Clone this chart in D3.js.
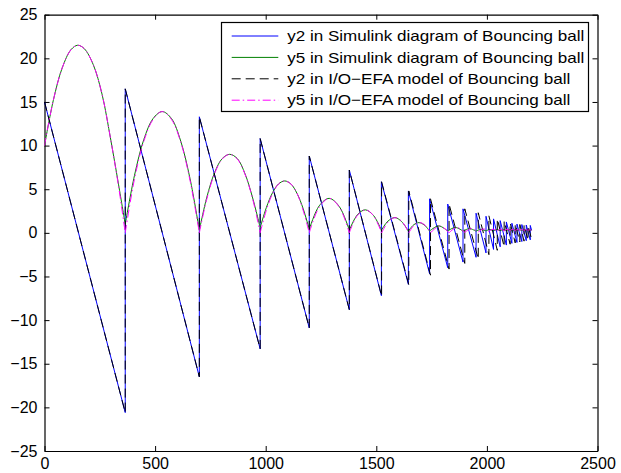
<!DOCTYPE html>
<html>
<head>
<meta charset="utf-8">
<script src="https://cdn.jsdelivr.net/npm/d3@7"></script>
<style>
  body { margin: 0; background: #fff; }
  text { font-family: "Liberation Sans", Arial, Helvetica, sans-serif; fill: #000; }
</style>
</head>
<body>
<svg id="chart" width="621" height="473"></svg>
<script>
// Axis ticks
const xTicks = [0, 500, 1000, 1500, 2000, 2500];
const yTicks = [-25, -20, -15, -10, -5, 0, 5, 10, 15, 20, 25];

// Legend entries
const legendLabels = [
  "y2 in Simulink diagram of Bouncing ball",
  "y5 in Simulink diagram of Bouncing ball",
  "y2 in I/O\u2212EFA model of Bouncing ball",
  "y5 in I/O\u2212EFA model of Bouncing ball"
];

// y2 (velocity), Simulink: vertices [step, value]
const simVelocity = [
  [0, 15], [365, -20.6], [365, 16.5], [700, -16.5], [700, 13.3], [975, -13.3], [975, 10.8],
  [1197, -10.9], [1197, 8.8], [1378, -8.8], [1378, 7.2], [1523, -7.2], [1523, 5.85],
  [1645, -5.9], [1645, 4.8], [1741, -4.7], [1741, 3.9], [1823, -4.0], [1823, 3.3],
  [1892, -3.35], [1892, 2.75], [1951, -2.8], [1951, 2.25], [1996, -2.3], [1996, 1.9],
  [2030, -1.9], [2030, 1.6], [2060, -1.6], [2060, 1.4], [2088, -1.4], [2088, 1.25],
  [2113, -1.2], [2113, 1.1], [2136, -1.1], [2136, 1.0], [2158, -1.0], [2158, 0.95],
  [2178, -0.9], [2178, 0.9], [2196, -0.8], [2196, 0.85], [2202, 0.3]
];

// y2 (velocity), I/O-EFA model
const efaVelocity = [
  [0, 15], [365, -20.6], [365, 16.5], [700, -16.5], [700, 13.3], [975, -13.3], [975, 10.8],
  [1197, -10.9], [1197, 8.8], [1378, -8.8], [1378, 7.2], [1524, -7.25], [1524, 5.85],
  [1647, -5.95], [1647, 4.8], [1745, -4.85], [1745, 3.9], [1829, -4.15], [1829, 3.3],
  [1900, -3.5], [1900, 2.75], [1961, -3.0], [1961, 2.3], [2009, -2.5], [2009, 1.95],
  [2047, -2.0], [2047, 1.6], [2078, -1.6], [2078, 1.35], [2105, -1.3], [2105, 1.15],
  [2128, -1.15], [2128, 1.0], [2149, -1.05], [2149, 0.95], [2168, -0.95], [2168, 0.9],
  [2186, -0.85], [2186, 0.8], [2202, -0.7]
];

// y5 (height), Simulink: one array of [step, value] per flight
const simPosition = [
  [[0, 10], [40, 15.2], [80, 18.9], [120, 21.0], [150, 21.5], [180, 21.1], [220, 19.3], [260, 15.9], [300, 10.6], [335, 5.5], [365, 1.0]],
  [[365, 1.0], [407, 6.6], [449, 10.7], [491, 13.1], [532, 13.9], [574, 13.1], [616, 10.5], [658, 6.2], [700, 0.3]],
  [[700, 0.3], [734, 4.1], [769, 6.9], [803, 8.5], [837, 9.0], [872, 8.5], [906, 6.8], [941, 4.0], [975, 0.6]],
  [[975, 0.6], [1003, 2.9], [1031, 4.6], [1058, 5.6], [1086, 5.95], [1114, 5.6], [1142, 4.5], [1169, 2.8], [1197, 0.4]],
  [[1197, 0.4], [1242, 3.1], [1287, 3.95], [1333, 3.0], [1378, 0.3]],
  [[1378, 0.3], [1414, 2.05], [1450, 2.64], [1487, 2.0], [1523, 0.3]],
  [[1523, 0.3], [1553, 1.35], [1584, 1.75], [1614, 1.3], [1645, 0.2]],
  [[1645, 0.2], [1669, 0.92], [1693, 1.17], [1717, 0.9], [1741, 0.2]],
  [[1741, 0.2], [1782, 0.8], [1823, 0.2]],
  [[1823, 0.2], [1857, 0.62], [1892, 0.2]],
  [[1892, 0.2], [1921, 0.48], [1951, 0.2]],
  [[1951, 0.2], [1973, 0.4], [1996, 0.22]],
  [[1996, 0.22], [2013, 0.38], [2030, 0.24]],
  [[2030, 0.24], [2045, 0.36], [2060, 0.25]],
  [[2060, 0.25], [2074, 0.35], [2088, 0.26]],
  [[2088, 0.26], [2100, 0.34], [2113, 0.27]],
  [[2113, 0.27], [2124, 0.34], [2136, 0.28]],
  [[2136, 0.28], [2147, 0.34], [2158, 0.28]],
  [[2158, 0.28], [2168, 0.33], [2178, 0.29]],
  [[2178, 0.29], [2187, 0.33], [2196, 0.3]],
  [[2196, 0.3], [2202, 0.32]]
];

// y5 (height), I/O-EFA model
const efaPosition = [
  [[0, 10], [40, 15.2], [80, 18.9], [120, 21.0], [150, 21.5], [180, 21.1], [220, 19.3], [260, 15.9], [300, 10.6], [335, 5.3], [365, 0]],
  [[365, 0], [407, 6.2], [449, 10.5], [491, 13.0], [532, 13.9], [574, 13.0], [616, 10.4], [658, 6.0], [700, 0]],
  [[700, 0], [734, 3.9], [769, 6.8], [803, 8.45], [837, 9.0], [872, 8.45], [906, 6.75], [941, 3.9], [975, 0]],
  [[975, 0], [1003, 2.6], [1031, 4.5], [1058, 5.6], [1086, 5.95], [1114, 5.6], [1142, 4.5], [1169, 2.6], [1197, 0]],
  [[1197, 0], [1242, 2.95], [1287, 3.95], [1333, 2.95], [1378, 0]],
  [[1378, 0], [1414, 1.98], [1451, 2.64], [1487, 1.98], [1524, 0]],
  [[1524, 0], [1555, 1.3], [1585, 1.74], [1616, 1.3], [1647, 0]],
  [[1647, 0], [1671, 0.88], [1696, 1.18], [1720, 0.88], [1745, 0]],
  [[1745, 0], [1787, 0.8], [1829, 0]],
  [[1829, 0], [1864, 0.62], [1900, 0.05]],
  [[1900, 0.05], [1930, 0.5], [1961, 0.1]],
  [[1961, 0.1], [1985, 0.45], [2009, 0.15]],
  [[2009, 0.15], [2028, 0.42], [2047, 0.2]],
  [[2047, 0.2], [2062, 0.42], [2078, 0.22]],
  [[2078, 0.22], [2091, 0.4], [2105, 0.25]],
  [[2105, 0.25], [2116, 0.4], [2128, 0.26]],
  [[2128, 0.26], [2138, 0.38], [2149, 0.27]],
  [[2149, 0.27], [2158, 0.37], [2168, 0.28]],
  [[2168, 0.28], [2177, 0.36], [2186, 0.29]],
  [[2186, 0.29], [2194, 0.35], [2202, 0.3]]
];

const svg = d3.select("#chart");
const plotLeft = 44.5, plotRight = 597.5, plotTop = 14.7, plotBottom = 451;

const x = d3.scaleLinear().domain([0, 2500]).range([plotLeft, plotRight]);
const y = d3.scaleLinear().domain([-25, 25]).range([plotBottom, plotTop]);
const fmt = d3.format("d");

// Axes with inward ticks on all four sides
const gx = svg.append("g").attr("transform", `translate(0,${plotBottom})`)
  .call(d3.axisBottom(x).tickValues(xTicks).tickFormat(fmt).tickSizeInner(-5).tickSizeOuter(0).tickPadding(7));
const gxTop = svg.append("g").attr("transform", `translate(0,${plotTop})`)
  .call(d3.axisTop(x).tickValues(xTicks).tickFormat("").tickSizeInner(-5).tickSizeOuter(0));
const gy = svg.append("g").attr("transform", `translate(${plotLeft},0)`)
  .call(d3.axisLeft(y).tickValues(yTicks).tickFormat(fmt).tickSizeInner(-5).tickSizeOuter(0).tickPadding(7));
const gyRight = svg.append("g").attr("transform", `translate(${plotRight},0)`)
  .call(d3.axisRight(y).tickValues(yTicks).tickFormat("").tickSizeInner(-5).tickSizeOuter(0));

[gx, gxTop, gy, gyRight].forEach(g => {
  g.selectAll("path.domain").attr("stroke", "#000").attr("stroke-width", 1.2);
  g.selectAll(".tick line").attr("stroke", "#000").attr("stroke-width", 1);
  g.selectAll("text").attr("font-size", 16).attr("font-family", "Liberation Sans, Arial, sans-serif").attr("fill", "#000");
});

// Series
const polyline = d3.line().x(d => x(d[0])).y(d => y(d[1]));
const arcLine = d3.line().x(d => x(d[0])).y(d => y(d[1])).curve(d3.curveCatmullRom.alpha(0.5));
const arcsPath = arcs => arcs.map(a => arcLine(a)).join("");

const plot = svg.append("g").attr("fill", "none").attr("stroke-width", 1);

plot.append("path").attr("d", polyline(simVelocity)).attr("stroke", "#0000ff");
plot.append("path").attr("d", arcsPath(simPosition)).attr("stroke", "#008000");
plot.append("path").attr("d", polyline(efaVelocity)).attr("stroke", "#000")
  .attr("stroke-dasharray", "9,5");
plot.append("path").attr("d", arcsPath(efaPosition)).attr("stroke", "#ff00ff")
  .attr("stroke-dasharray", "8,3,1.5,3");

// Legend
const legendStyles = [
  { color: "#0000ff", dash: null },
  { color: "#008000", dash: null },
  { color: "#000", dash: "9,5" },
  { color: "#ff00ff", dash: "8,3,1.5,3" }
];
const legendWidths = [297, 297, 283, 283];
const legend = svg.append("g");
legend.append("rect")
  .attr("x", 221.5).attr("y", 22.5).attr("width", 367).attr("height", 89)
  .attr("fill", "#fff").attr("stroke", "#000").attr("stroke-width", 1.2);

legendLabels.forEach((label, i) => {
  const ry = 36 + i * 21.4;
  legend.append("line")
    .attr("x1", 231.7).attr("x2", 278.3).attr("y1", ry).attr("y2", ry)
    .attr("stroke", legendStyles[i].color).attr("stroke-width", 1)
    .attr("stroke-dasharray", legendStyles[i].dash);
  legend.append("text")
    .attr("x", 287.3).attr("y", ry).attr("dy", "0.35em")
    .attr("font-size", 15)
    .attr("textLength", legendWidths[i]).attr("lengthAdjust", "spacingAndGlyphs")
    .text(label);
});
</script>
</body>
</html>
